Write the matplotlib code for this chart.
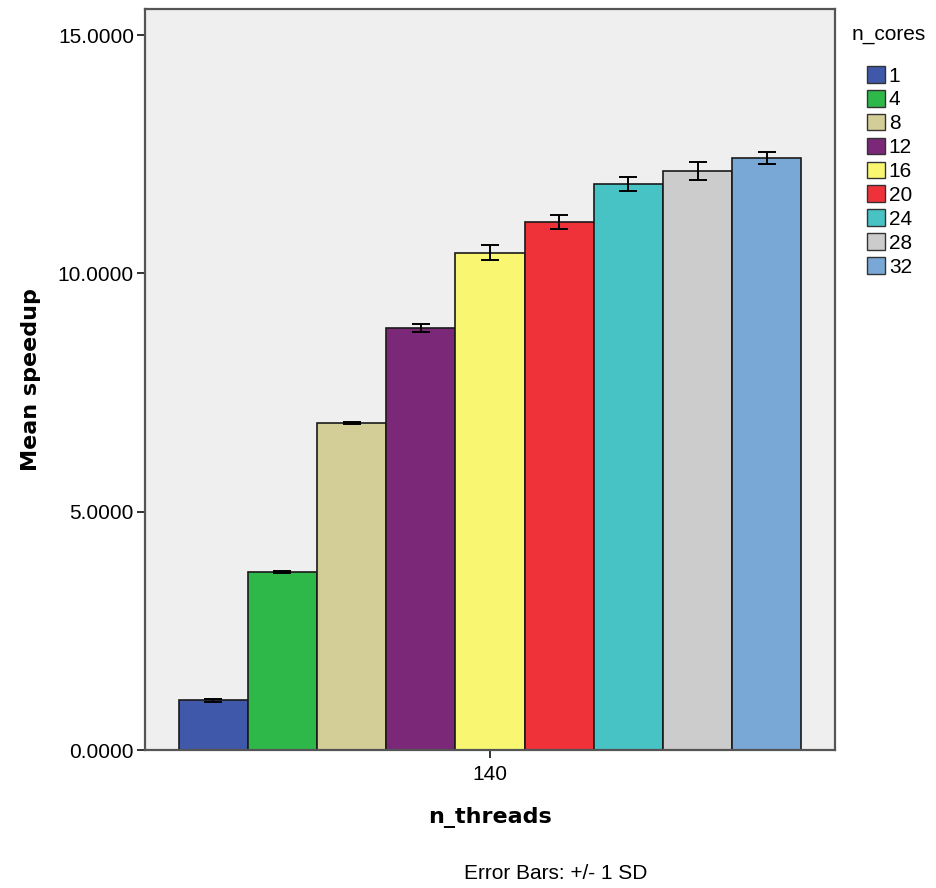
import matplotlib
matplotlib.use("Agg")
import matplotlib.pyplot as plt
from matplotlib import font_manager
from matplotlib.patches import Patch
import numpy as np

n_cores = ["1", "4", "8", "12", "16", "20", "24", "28", "32"]
mean_speedup = [1.04, 3.74, 6.87, 8.86, 10.44, 11.08, 11.88, 12.15, 12.42]
sd = [0.03, 0.02, 0.02, 0.08, 0.16, 0.155, 0.147, 0.19, 0.13]
colors = ["#3f58a9", "#2fb84a", "#d3ce97", "#7b2879", "#f9f771",
          "#ef3239", "#47c3c5", "#cccccc", "#79a8d6"]
group_label = "140"
y_ticks = [0, 5, 10, 15]

names = {f.name for f in font_manager.fontManager.ttflist}
narrow = "Liberation Sans Narrow" if "Liberation Sans Narrow" in names else "Liberation Sans"

fig = plt.figure(figsize=(9.37, 8.88), dpi=100)
ax = fig.add_axes([145/937, 1-750/888, (835-145)/937, (750-9)/888])
ax.set_facecolor("#efefef")

n = len(n_cores)
width = 0.1003
offsets = (np.arange(n) - (n-1)/2) * width
for i in range(n):
    ax.bar(offsets[i], mean_speedup[i], width=width, color=colors[i],
           edgecolor="#1a1a1a", linewidth=1.2, zorder=2)
    ax.errorbar(offsets[i], mean_speedup[i], yerr=sd[i], fmt="none",
                ecolor="black", elinewidth=1.4, capsize=6.4, capthick=1.4, zorder=3)

ax.set_xlim(-0.5, 0.5)
ax.set_ylim(0, 15.55)
ax.set_xticks([0])
ax.set_xticklabels([group_label], fontfamily=narrow, fontsize=15)
ax.set_yticks(y_ticks)
ax.set_yticklabels([f"{v:.4f}" for v in y_ticks], fontfamily=narrow, fontsize=15)
ax.tick_params(axis="both", direction="out", length=6, width=1.3, color="#222222", pad=2)
ax.tick_params(axis="x", pad=5)

for s in ax.spines.values():
    s.set_color("#555555")
    s.set_linewidth(1.6)

ax.set_ylabel("Mean speedup", fontfamily="DejaVu Sans", fontweight="bold", fontsize=16, labelpad=12)
ax.set_xlabel("n_threads", fontfamily="DejaVu Sans", fontweight="bold", fontsize=16, labelpad=16)

fig.text(852/937, 1-35/888, "n_cores", ha="left", va="center",
         fontfamily=narrow, fontsize=15)

handles = [Patch(facecolor=colors[i], edgecolor="#333333", linewidth=1.0) for i in range(n)]
leg = fig.legend(handles, n_cores, loc="upper left", bbox_to_anchor=(867/937, 1-66/888),
                 frameon=False,
                 prop={"family": narrow, "size": 15},
                 handlelength=0.85, handleheight=0.85, handletextpad=0.2,
                 labelspacing=0.21, borderaxespad=0, borderpad=0)

fig.text(556/937, 1-873/888, "Error Bars: +/- 1 SD", ha="center", va="center",
         fontfamily=narrow, fontsize=15)

fig.savefig("out.png", dpi=100)
